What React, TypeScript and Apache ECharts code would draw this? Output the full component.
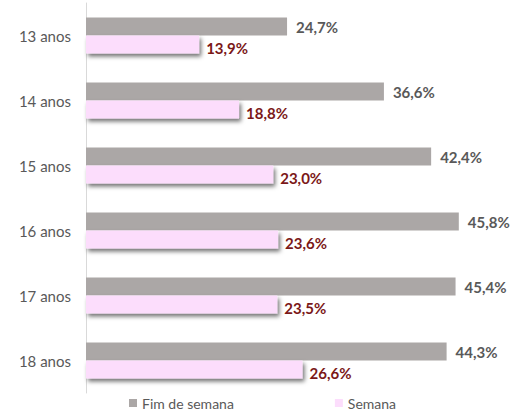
import React, { useEffect, useRef } from "react";
import * as echarts from "echarts";

const categories = ["13 anos", "14 anos", "15 anos", "16 anos", "17 anos", "18 anos"];
const fimDeSemana = [24.7, 36.6, 42.4, 45.8, 45.4, 44.3];
const semana = [13.9, 18.8, 23.0, 23.6, 23.5, 26.6];
const seriesNames = ["Fim de semana", "Semana"];

const fmt = (v: number) => v.toFixed(1).replace(".", ",") + "%";

export default function App() {
  const ref = useRef<HTMLDivElement>(null);
  useEffect(() => {
    if (!ref.current) return;
    const chart = echarts.init(ref.current, null, { renderer: "svg" });
    chart.setOption({
      animation: false,
      grid: { left: 86, top: 3, width: 407, height: 390 },
      legend: {
        data: seriesNames,
        left: 129,
        top: 395,
        padding: 0,
        itemWidth: 8,
        itemHeight: 8,
        itemGap: 101,
        icon: "rect",
        textStyle: { color: "#595959", fontSize: 14, fontFamily: "Lato", lineHeight: 16 },
      },
      xAxis: {
        type: "value",
        min: 0,
        max: 50,
        show: false,
      },
      yAxis: {
        type: "category",
        data: categories,
        inverse: true,
        axisLine: { show: true, lineStyle: { color: "#D9D9D9" } },
        axisTick: { show: false },
        axisLabel: { color: "#595959", fontSize: 15, fontFamily: "Lato", margin: 15 },
      },
      series: [
        {
          name: seriesNames[0],
          type: "bar",
          data: fimDeSemana,
          barWidth: 18,
          barGap: "0%",
          itemStyle: { color: "#ABA7A6" },
          label: {
            show: true,
            position: "right",
            distance: 9,
            formatter: (p: any) => fmt(p.value),
            color: "#595959",
            fontWeight: "bold",
            fontSize: 15,
            fontFamily: "Lato",
          },
        },
        {
          name: seriesNames[1],
          type: "bar",
          data: semana,
          barWidth: 18,
          barGap: "0%",
          itemStyle: {
            color: "#FCDDFC",
            shadowColor: "rgba(0,0,0,0.55)",
            shadowBlur: 4,
            shadowOffsetX: 2,
            shadowOffsetY: 3,
          },
          label: {
            show: true,
            position: "right",
            distance: 7,
            offset: [0, 3],
            formatter: (p: any) => fmt(p.value),
            color: "#7B1818",
            fontWeight: "bold",
            fontSize: 15,
            fontFamily: "Lato",
          },
        },
      ],
    });
    return () => chart.dispose();
  }, []);
  return <div ref={ref} style={{ width: 518, height: 412, position: "absolute", left: 0, top: 0 }} />;
}
